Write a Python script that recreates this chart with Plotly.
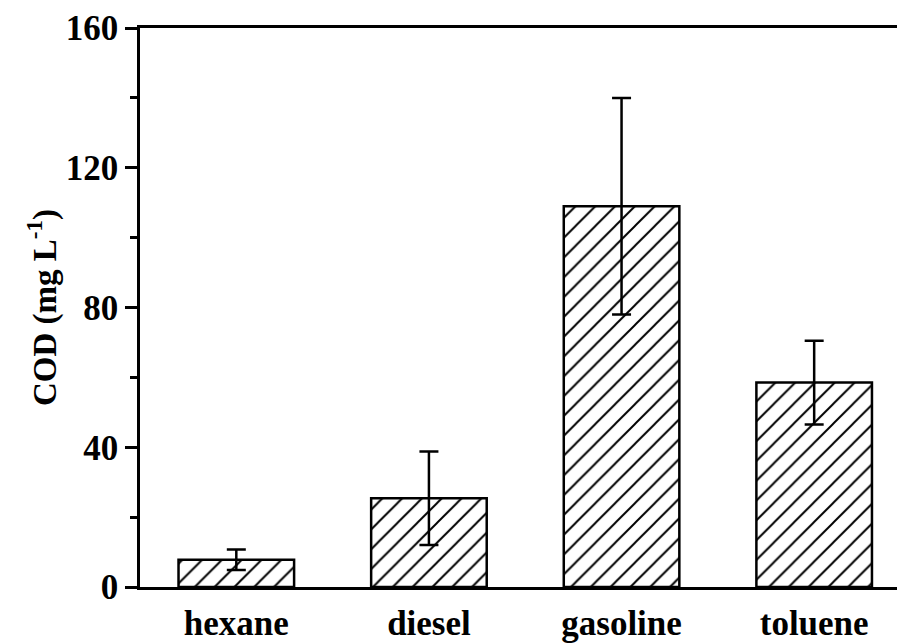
import plotly.graph_objects as go

categories = ["hexane", "diesel", "gasoline", "toluene"]
cod_values = [7.8, 25.4, 109.0, 58.5]
cod_errors = [2.9, 13.4, 31.0, 12.0]
y_ticks = [0, 40, 80, 120, 160]

FONT = "Liberation Serif, Times New Roman, serif"

fig = go.Figure()
fig.add_trace(go.Bar(
    x=categories,
    y=cod_values,
    width=0.6,
    marker=dict(
        color="white",
        line=dict(color="black", width=2.5),
        pattern=dict(shape="/", size=14, solidity=0.14, fgcolor="black", fgopacity=1, bgcolor="white"),
    ),
    error_y=dict(type="data", array=cod_errors, visible=True, color="black", thickness=2.5, width=9.5),
))

fig.update_layout(
    width=897, height=643,
    margin=dict(l=140, r=0, t=28, b=46, pad=0),
    paper_bgcolor="white", plot_bgcolor="white",
    showlegend=False,
    font=dict(family=FONT, color="black"),
)
fig.update_xaxes(
    range=[-0.5, 3.43],
    showline=True, linecolor="black", linewidth=2.5, mirror=True,
    ticks="", showgrid=False, zeroline=False,
    tickfont=dict(family=FONT, size=35, weight="bold", color="black"),
    ticklabelstandoff=3,
)
fig.update_yaxes(
    range=[0, 160],
    tickvals=y_ticks,
    showline=True, linecolor="black", linewidth=2.5, mirror=False,
    ticks="outside", ticklen=12, tickwidth=2.5, tickcolor="black",
    minor=dict(dtick=20, ticks="outside", ticklen=7, tickwidth=2.5, tickcolor="black", showgrid=False),
    showgrid=False, zeroline=False,
    tickfont=dict(family=FONT, size=35, weight="bold", color="black"),
    ticklabelstandoff=0,
    title=dict(text="COD (mg L<sup>-1</sup>)", font=dict(family=FONT, size=33, weight="bold", color="black"), standoff=0),
)

fig.write_html("out.html")
